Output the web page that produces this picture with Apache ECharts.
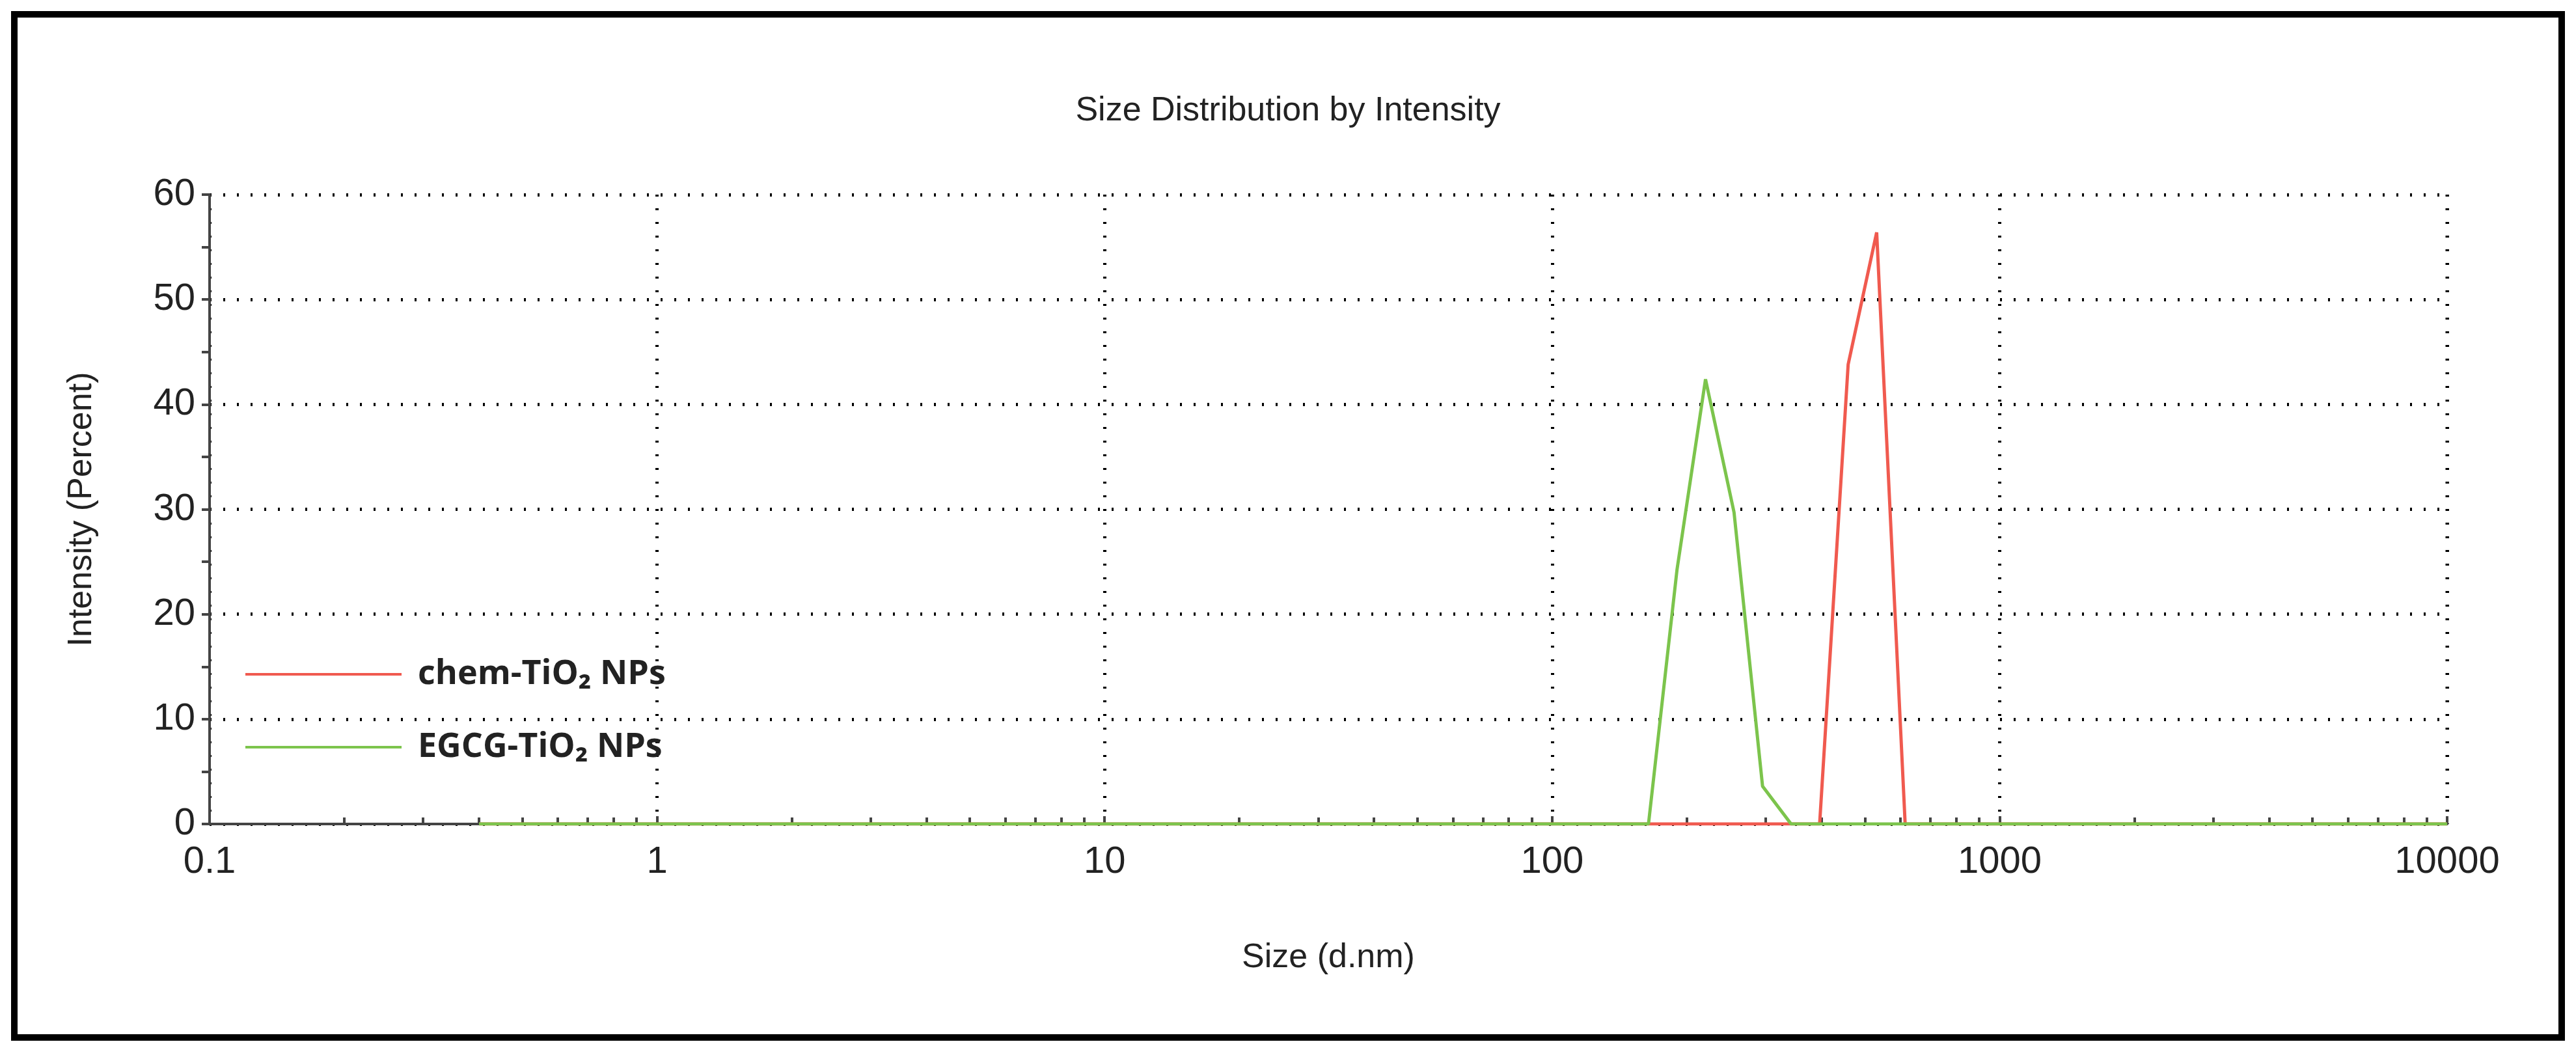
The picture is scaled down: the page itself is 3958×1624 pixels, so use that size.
<!DOCTYPE html>
<html>
<head>
<meta charset="utf-8">
<script src="https://cdn.jsdelivr.net/npm/echarts@6/dist/echarts.min.js"></script>
<style>html,body{margin:0;padding:0;background:#fff}#main{width:3958px;height:1624px}</style>
</head>
<body>
<div id="main"></div>
<script>
// size (d.nm) and intensity (%)
var chemSize = [0.4, 342, 396.1, 458.7, 531.2, 615.1, 10000];
var chemInt  = [0,   0,   0,     43.8,  56.4,  0,     0];
var egcgSize = [0.4, 164.2, 190.1, 220.2, 255, 295.3, 342, 10000];
var egcgInt  = [0,   0,     24.2,  42.4,  29.7, 3.6,  0,   0];
var seriesNames = ['chem-TiO\u2082 NPs', 'EGCG-TiO\u2082 NPs'];

function pairs(xs, ys){
  return xs.map(function(x, i){ return [x, ys[i]]; });
}

var chart = echarts.init(document.getElementById('main'));
var axisFont = 'Liberation Sans';

var option = {
  animation: false,
  backgroundColor: '#fff',
  title: {
    text: 'Size Distribution by Intensity',
    left: 'center', top: 140,
    textStyle: {fontFamily: axisFont, fontSize: 52, fontWeight: 'normal', color: '#222'}
  },
  legend: {
    orient: 'vertical', left: 372, top: 1005, itemGap: 60,
    itemWidth: 240, itemHeight: 20,
    icon: 'path://M0,8 L240,8 L240,12 L0,12 Z',
    textStyle: {fontFamily: 'Open Sans', fontWeight: 'bold', fontSize: 52, color: '#222', padding: [0, 0, 0, 20]},
    data: seriesNames
  },
  grid: {left: 322, right: 198, top: 299, bottom: 358},
  xAxis: {
    type: 'log', logBase: 10, min: 0.1, max: 10000,
    name: 'Size (d.nm)', nameLocation: 'middle', nameGap: 180,
    nameTextStyle: {fontFamily: axisFont, fontSize: 52, color: '#222'},
    axisLine: {lineStyle: {color: '#444', width: 4}},
    axisTick: {show: true, inside: true, length: 12, lineStyle: {color: '#444', width: 4}},
    minorTick: {show: true, splitNumber: 9, length: 10, lineStyle: {color: '#444', width: 4}},
    axisLabel: {fontFamily: axisFont, fontSize: 58, color: '#222', margin: 30,
      formatter: function(v){ return String(v); }},
    splitLine: {show: true, lineStyle: {color: '#000', type: [3, 18], width: 5}}
  },
  yAxis: {
    type: 'value', min: 0, max: 60, interval: 10,
    name: 'Intensity (Percent)', nameLocation: 'middle', nameGap: 170,
    nameTextStyle: {fontFamily: axisFont, fontSize: 52, color: '#222'},
    axisLine: {show: true, lineStyle: {color: '#444', width: 4}},
    axisTick: {show: true, length: 12, lineStyle: {color: '#444', width: 4}},
    minorTick: {show: true, splitNumber: 2, length: 12, lineStyle: {color: '#444', width: 4}},
    axisLabel: {fontFamily: axisFont, fontSize: 58, color: '#222', margin: 22},
    splitLine: {show: true, lineStyle: {color: '#000', type: [3, 18], width: 5}}
  },
  graphic: [
    {type: 'rect', shape: {x: 22, y: 22, width: 3914, height: 1572},
     style: {fill: 'none', stroke: '#000', lineWidth: 10}},
    {type: 'line', shape: {x1: 3760, y1: 299, x2: 3760, y2: 1266},
     style: {stroke: '#000', lineWidth: 5, lineDash: [3, 18]}}
  ],
  series: [
    {name: seriesNames[0], type: 'line', data: pairs(chemSize, chemInt),
     showSymbol: false, color: '#f05a4f', lineStyle: {width: 5, color: '#f05a4f'}, z: 2},
    {name: seriesNames[1], type: 'line', data: pairs(egcgSize, egcgInt),
     showSymbol: false, color: '#7cc44c', lineStyle: {width: 5, color: '#7cc44c'}, z: 3}
  ]
};
chart.setOption(option);
</script>
</body>
</html>
